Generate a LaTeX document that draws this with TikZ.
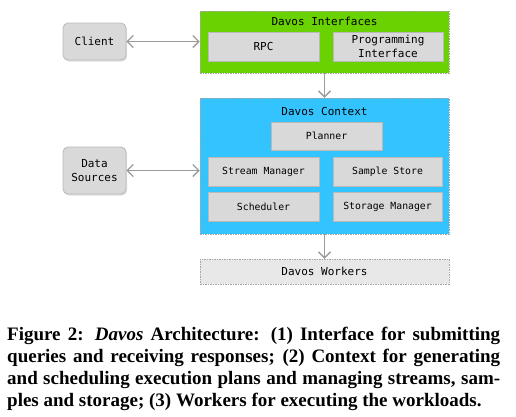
\documentclass[tikz,border=0pt]{standalone}
\usepackage{fontspec}
\setmainfont{Liberation Serif}
\newfontfamily\boxfont{DejaVu Sans Mono}
\usepackage{xcolor}
\usepackage{tikz}
\usetikzlibrary{arrows.meta,positioning,shadows}
\definecolor{ifgreen}{RGB}{106,210,0}
\definecolor{ctxblue}{RGB}{51,196,255}
\definecolor{boxgray}{RGB}{217,217,217}
\definecolor{linegray}{RGB}{155,155,155}

\begin{document}
\begin{tikzpicture}[x=1pt, y=-1pt, every node/.style={inner sep=0pt, align=center, font=\boxfont\fontsize{11}{13.5}\selectfont},
    outerbox/.style={draw=gray!70, dash pattern=on 1.5pt off 1pt, line width=0.5pt, minimum width=249pt},
    innerbox/.style={draw=gray!55, fill=boxgray, line width=0.8pt, minimum height=29pt},
    ctxbox/.style={innerbox, font=\boxfont\fontsize{9.8}{11}\selectfont},
    sidebox/.style={draw=gray!55, fill=boxgray, line width=0.8pt, rounded corners=5pt, minimum width=63pt, drop shadow={shadow xshift=1pt, shadow yshift=-1.5pt, opacity=0.25}},
    link/.style={draw=linegray, line width=1.3pt, {Straight Barb[length=6pt,width=12pt]}-{Straight Barb[length=6pt,width=12pt]}},
    flow/.style={draw=linegray, line width=1.3pt, -{Straight Barb[length=6pt,width=12pt]}}]
    \useasboundingbox (0,0) rectangle (516,416);

    % Client and data sources
    \node[sidebox, minimum height=37pt] (client) at (94.5,41.5) {Client};
    \node[sidebox, minimum height=47pt] (sources) at (94.5,170.5) {Data\\Sources};

    % Interfaces
    \node[outerbox, fill=ifgreen, minimum height=62pt] (ifaces) at (324.5,42) {};
    \node[below=6pt of ifaces.north] (ifacestitle) {Davos Interfaces};
    \node[innerbox, minimum width=111pt] (rpc) at (263.5,46.5) {RPC};
    \node[innerbox, minimum width=110pt] (progif) at (388,46.5) {Programming\\Interface};

    % Context
    \node[outerbox, fill=ctxblue, minimum height=136pt] (context) at (324.5,166) {};
    \node[below=9pt of context.north] (contexttitle) {Davos Context};
    \node[ctxbox, minimum width=111pt, minimum height=28pt] (planner) at (326.5,136) {Planner};
    \node[ctxbox, minimum width=111pt] (stream) at (263.5,171.5) {Stream Manager};
    \node[ctxbox, minimum width=109pt] (sample) at (387.5,171.5) {Sample Store};
    \node[ctxbox, minimum width=111pt] (sched) at (263.5,206.5) {Scheduler};
    \node[ctxbox, minimum width=109pt] (storage) at (387.5,206.5) {Storage Manager};

    % Workers
    \node[outerbox, fill=gray!18, minimum height=25pt] (workers) at (324.5,271.5) {Davos Workers};

    % Arrows
    \draw[link] (client) -- (ifaces.west |- client);
    \draw[link] (sources) -- (context.west |- sources);
    \draw[flow] (ifaces) -- (context);
    \draw[flow] (context) -- (workers);

    % Caption
    \node[anchor=north west, text width=493pt, align=justify, font=\rmfamily\bfseries\fontsize{19}{22}\selectfont] (caption) at (7,326.5) {%
        Figure 2: \textit{Davos} Architecture: (1) Interface for submitting\linebreak
        queries and receiving responses; (2) Context for generating\linebreak
        and scheduling execution plans and managing streams, sam-\linebreak
        ples and storage; (3) Workers for executing the workloads.};
\end{tikzpicture}
\end{document}
